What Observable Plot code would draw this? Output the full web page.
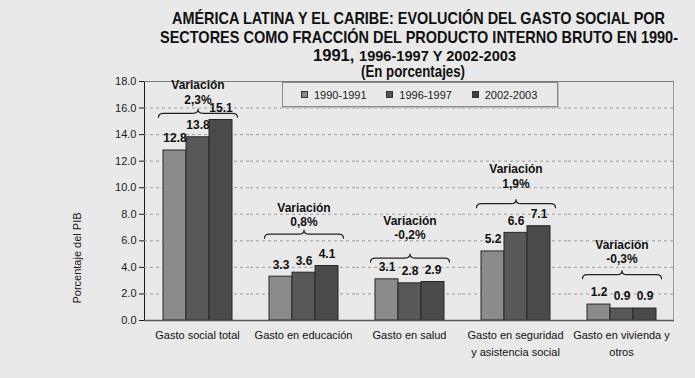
<!DOCTYPE html>
<html>
<head>
<meta charset="utf-8">
<script src="https://cdn.jsdelivr.net/npm/d3@7"></script>
<script src="https://cdn.jsdelivr.net/npm/@observablehq/plot@0.6"></script>
<style>
  body { margin: 0; background: #e9e9e9; }
  #wrap { position: relative; width: 695px; height: 378px; overflow: hidden; font-family: "Liberation Sans", Arial, sans-serif; color: #1a1a1a; }
  #title { position: relative; z-index: 2; height: 60px; width: 695px;
           font-family: "Liberation Sans", Arial, sans-serif; font-weight: bold; color: #111; }
  #title .ln { position: absolute; white-space: nowrap; line-height: 1; transform-origin: 0 50%; }
  #ylabel { position: absolute; left: 77px; top: 258px; transform: translate(-50%, -50%) rotate(-90deg); font-size: 11px; white-space: nowrap; }
  #legend { position: absolute; left: 282px; top: 82px; width: 276px; height: 25px; border: 1px solid #8a8a8a; box-shadow: 1px 1px 0 #bdbdbd;
            display: flex; align-items: center; padding-left: 18px; box-sizing: border-box; font-size: 11px; z-index: 2; }
  #legend .item { width: 93px; display: flex; align-items: center; }
  #legend .sw { width: 7px; height: 7px; border: 1px solid #333; margin-right: 6px; box-sizing: border-box; }
</style>
</head>
<body>
<div id="wrap">
  <div id="title">
    <span class="ln" data-left="172" data-w="493" data-cy="18" style="font-size:17px">AMÉRICA LATINA Y EL CARIBE: EVOLUCIÓN DEL GASTO SOCIAL POR</span>
    <span class="ln" data-left="160" data-w="518" data-cy="37" style="font-size:17px">SECTORES COMO FRACCIÓN DEL PRODUCTO INTERNO BRUTO EN 1990-</span>
    <span class="ln" data-left="313" data-w="203" data-cy="55" style="font-size:17px">1991, <span style="font-size:15px">1996-1997 Y 2002-2003</span></span>
    <span class="ln" data-left="361" data-w="104" data-cy="72" style="font-size:16px">(En porcentajes)</span>
  </div>
  <div id="chart"></div>
  <div id="ylabel">Porcentaje del PIB</div>
  <div id="legend"></div>
</div>
<script>
// ---- data ----
const categories = ["Gasto social total", "Gasto en educación", "Gasto en salud", "Gasto en seguridad\ny asistencia social", "Gasto en vivienda y\notros"];
const periods = ["1990-1991", "1996-1997", "2002-2003"];
const v1990 = [12.8, 3.3, 3.1, 5.2, 1.2];
const v1996 = [13.8, 3.6, 2.8, 6.6, 0.9];
const v2002 = [15.1, 4.1, 2.9, 7.1, 0.9];
const variation = ["2,3%", "0,8%", "-0,2%", "1,9%", "-0,3%"];
const braceLevel = [15.6, 6.5, 4.7, 8.8, 3.45];
const pctLevel = [16.6, 7.4, 6.4, 10.3, 4.65];
const headLevel = [17.7, 8.45, 7.5, 11.4, 5.7];
const yTicks = [0, 2, 4, 6, 8, 10, 12, 14, 16, 18];
const barColors = ["#8b8b8b", "#585858", "#4a4a4a"];
const legendColors = ["#8b8b8b", "#555555", "#404040"];

const series = [v1990, v1996, v2002];
const data = categories.flatMap((c, i) => periods.map((p, j) => ({cat: c, period: p, value: series[j][i]})));
const annot = categories.map((c, i) => ({cat: c, brace: braceLevel[i], pct: pctLevel[i], head: headLevel[i], text: variation[i]}));
const braceData = annot.flatMap(a => [
  {cat: a.cat, period: periods[0], y: a.brace},
  {cat: a.cat, period: periods[periods.length - 1], y: a.brace}
]);

// title lines: fit each line horizontally to the reference width
document.querySelectorAll("#title .ln").forEach(el => {
  const r = el.getBoundingClientRect();
  el.style.left = el.dataset.left + "px";
  el.style.top = (+el.dataset.cy - r.height / 2) + "px";
  el.style.transform = `scaleX(${+el.dataset.w / r.width})`;
});

// custom curve: draws a horizontal curly brace between first and last point
function braceCurve(context) {
  let pts = [];
  return {
    areaStart() {}, areaEnd() {},
    lineStart() { pts = []; },
    point(x, y) { pts.push([+x, +y]); },
    lineEnd() {
      if (pts.length < 2) return;
      const x0 = pts[0][0], x1 = pts[pts.length - 1][0], y = pts[0][1];
      const e = (x1 - x0) / 4 + 5;
      const a = x0 - e, b = x1 + e, m = (a + b) / 2, h = 4, r = 5;
      context.moveTo(a, y + h);
      context.quadraticCurveTo(a, y, a + r, y);
      context.lineTo(m - r, y);
      context.quadraticCurveTo(m, y, m, y - h);
      context.quadraticCurveTo(m, y, m + r, y);
      context.lineTo(b - r, y);
      context.quadraticCurveTo(b, y, b, y + h);
    }
  };
}

const W = 695, mL = 142, mR = 20;
const facetW = (W - mL - mR) / categories.length;

const chart = Plot.plot({
  width: W, height: 318,
  marginTop: 21, marginBottom: 58, marginLeft: mL, marginRight: mR,
  style: {background: "transparent", fontFamily: "'Liberation Sans', Arial, sans-serif", fontSize: "11px", color: "#1a1a1a"},
  fx: {domain: categories, padding: 0, axis: null},
  x: {domain: periods, paddingInner: 0, paddingOuter: 0.75, axis: null},
  y: {domain: [0, 18], ticks: yTicks, tickFormat: d => d.toFixed(1), line: true, tickSize: 5, tickPadding: 3, label: null},
  color: {domain: periods, range: barColors},
  marks: [
    Plot.ruleY(yTicks.filter(t => t > 0 && t < 18), {stroke: "#9a9a9a", strokeDasharray: "3,3"}),
    Plot.ruleY([18], {stroke: "#7a7a7a"}),
    Plot.rect([categories[categories.length - 1]], {fx: d => d, y1: 0, y2: 18, insetLeft: facetW - 1.2, fill: "#6a6a6a"}),
    Plot.barY(data, {fx: "cat", x: "period", y: "value", fill: "period", stroke: "#262626", strokeWidth: 1}),
    Plot.ruleY([0], {stroke: "#555", strokeWidth: 1.5}),
    Plot.text(data, {fx: "cat", x: "period", y: "value", text: d => d.value.toFixed(1), dy: -12, fontWeight: "bold", fontSize: 12, fill: "#111"}),
    Plot.line(braceData, {fx: "cat", x: "period", y: "y", z: "cat", curve: braceCurve, stroke: "#222", strokeWidth: 1.2}),
    Plot.text(annot, {fx: "cat", x: () => periods[1], y: "pct", text: "text", fontWeight: "bold", fontSize: 12, fill: "#111"}),
    Plot.text(annot, {fx: "cat", x: () => periods[1], y: "head", text: () => "Variación", fontWeight: "bold", fontSize: 12, fill: "#111"}),
    Plot.text(categories, {fx: d => d, frameAnchor: "bottom", text: d => d, lineAnchor: "top", dy: 7, lineHeight: 1.5, fontSize: 11, fill: "#111"})
  ]
});
document.getElementById("chart").appendChild(chart);

// legend
const legend = document.getElementById("legend");
periods.forEach((p, i) => {
  const item = document.createElement("div");
  item.className = "item";
  const sw = document.createElement("span");
  sw.className = "sw";
  sw.style.background = legendColors[i];
  const t = document.createElement("span");
  t.textContent = p;
  item.appendChild(sw); item.appendChild(t);
  legend.appendChild(item);
});
</script>
</body>
</html>
